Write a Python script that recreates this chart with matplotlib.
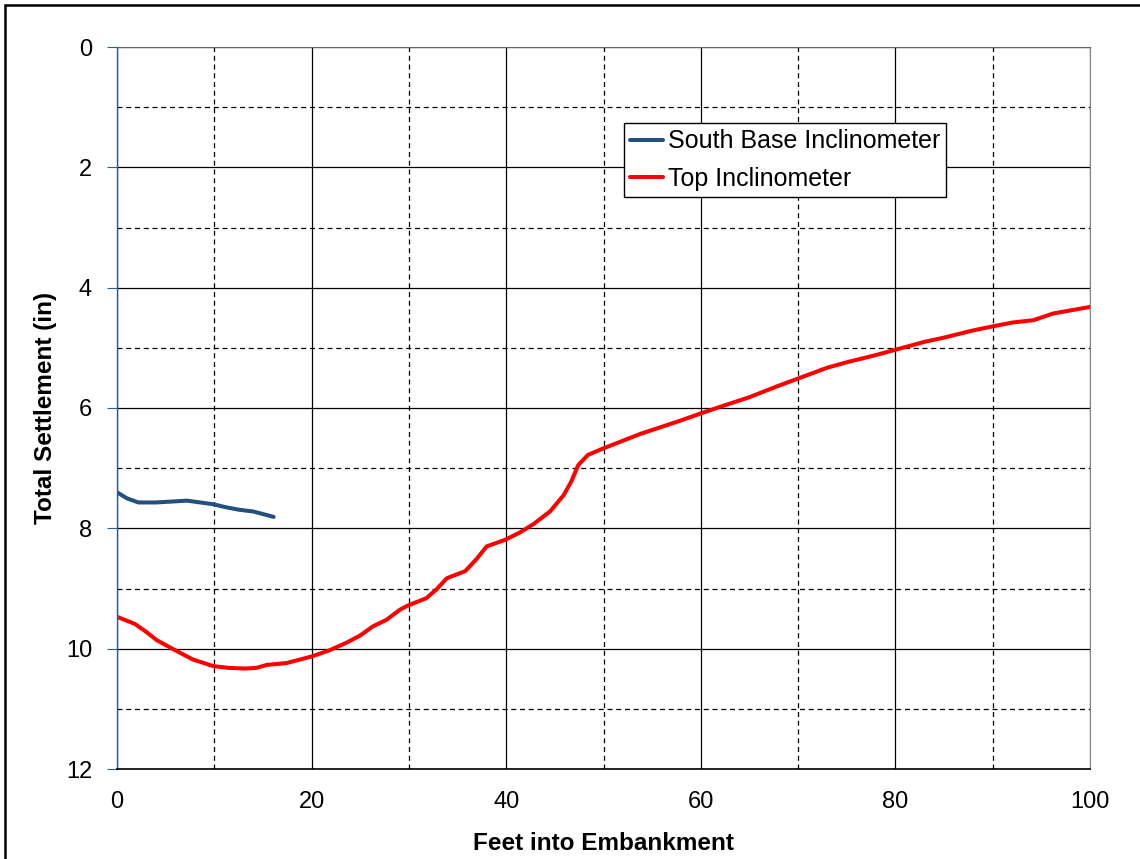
import numpy as np
import matplotlib.pyplot as plt
from matplotlib.patches import Rectangle

plt.rcParams['font.family'] = ['Liberation Sans', 'DejaVu Sans']

# South Base Inclinometer
base_x = [0, 1, 2.2, 4, 7.2, 9.9, 11.2, 12.5, 14, 16.1]
base_y = [7.40, 7.50, 7.57, 7.57, 7.54, 7.60, 7.65, 7.69, 7.72, 7.81]

# Top Inclinometer
top_x = [0, 1.85, 3, 4.1, 5.8, 7.8, 9.9, 11.5, 13.2, 14.3, 15.4, 17.4, 20, 21.8, 23.6, 25, 26.3, 27.7,
         29.1, 29.8, 31.8, 32.8, 33.9, 35.8, 36.9, 38.0, 39.9, 41.4, 42.8, 44.5, 45.9, 46.7, 47.4,
         48.4, 50.0, 51.9, 53.8, 57.9, 60, 62, 65, 68, 70, 73, 75, 78, 80.5, 83, 85, 88, 90.1, 92, 94.2,
         96.2, 100]
top_y = [9.47, 9.59, 9.72, 9.86, 10.01, 10.18, 10.29, 10.32, 10.33, 10.32, 10.27, 10.24, 10.13, 10.03,
         9.90, 9.78, 9.63, 9.52, 9.35, 9.29, 9.16, 9.02, 8.83, 8.71, 8.52, 8.30, 8.19, 8.07, 7.93, 7.72,
         7.45, 7.22, 6.95, 6.78, 6.67, 6.55, 6.43, 6.21, 6.09, 5.98, 5.82, 5.63, 5.51, 5.33, 5.24, 5.12,
         5.01, 4.90, 4.83, 4.71, 4.64, 4.58, 4.54, 4.43, 4.32]

fig = plt.figure(figsize=(11.4, 8.59), dpi=100)
ax = fig.add_axes([117 / 1140, 1 - 769 / 859, 973 / 1140, 722 / 859])

# outer chart border
fig.patches.append(Rectangle((5 / 1140, -0.01), 1.2, (859 - 5) / 859 + 0.01, transform=fig.transFigure,
                             fill=False, edgecolor='black', linewidth=1.8))

ax.plot(base_x, base_y, color='#23507f', linewidth=2.9, label='South Base Inclinometer',
        solid_capstyle='round', solid_joinstyle='round')
ax.plot(top_x, top_y, color='#ff0000', linewidth=2.9, label='Top Inclinometer',
        solid_capstyle='round', solid_joinstyle='round')

ax.set_xlim(0, 100)
ax.set_ylim(12, 0)
ax.set_xticks(range(0, 101, 20))
ax.set_xticks(range(10, 100, 20), minor=True)
ax.set_yticks(range(0, 13, 2))
ax.set_yticks(range(1, 12, 2), minor=True)

ax.grid(which='major', color='black', linewidth=0.9)
ax.grid(which='minor', color='black', linewidth=0.9, linestyle=(0, (4, 3)))
ax.set_axisbelow(True)

ax.spines['left'].set_color('#2e5c9a')
ax.spines['left'].set_linewidth(1.0)
ax.spines['bottom'].set_color('black')
ax.spines['bottom'].set_linewidth(1.2)
ax.spines['right'].set_color('#888888')
ax.spines['top'].set_color('#666666')

ax.tick_params(axis='y', which='major', length=7, color='#2e5c9a', labelsize=17, pad=11)
ax.tick_params(axis='y', which='minor', length=0)
ax.tick_params(axis='x', which='both', length=0, labelsize=17, pad=16)

ax.set_xlabel('Feet into Embankment', fontsize=17.5, fontweight='bold')
ax.set_ylabel('Total Settlement (in)', fontsize=17.5, fontweight='bold')
ax.xaxis.set_label_coords(0.5, -(843 - 769) / 722, transform=ax.transAxes)
ax.xaxis.label.set_va('center')
ax.yaxis.set_label_coords(-(117 - 46) / 973, 0.5, transform=ax.transAxes)
ax.yaxis.label.set_va('center')

leg = ax.legend(loc='upper left', bbox_to_anchor=((624 - 117) / 973, 1 - (123 - 47) / 722),
                fontsize=18, frameon=True, fancybox=False, handlelength=1.3, handletextpad=0.2,
                borderpad=0.25, labelspacing=0.55, borderaxespad=0, framealpha=1)
leg.get_frame().set_edgecolor('black')
leg.get_frame().set_linewidth(1.0)

fig.savefig('out.png', dpi=100)
